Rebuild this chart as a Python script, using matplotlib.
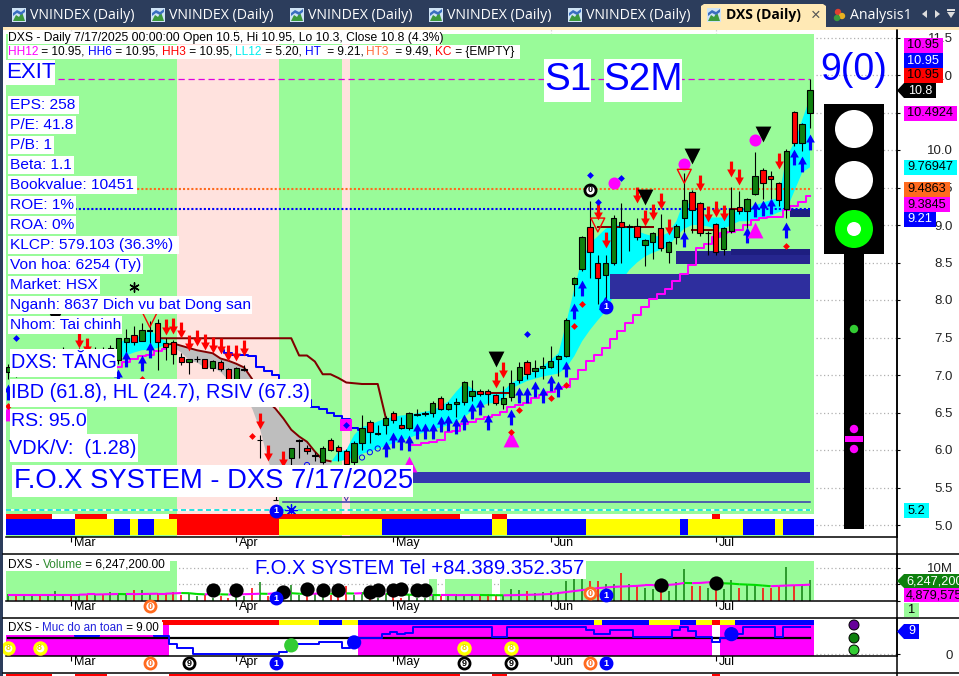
import numpy as np
import matplotlib
matplotlib.use("Agg")
import matplotlib.pyplot as plt
from matplotlib.patches import Rectangle, Polygon, Circle
from matplotlib.path import Path
from matplotlib.transforms import ScaledTranslation

plt.rcParams['font.family'] = ['Liberation Sans', 'DejaVu Sans']

# ---------------- data ----------------
body_top = [7.11,7.10,7.12,7.16,7.20,7.22,7.25,7.34,7.30,7.32,7.33,7.32,7.34,7.36,7.49,7.50,7.53,7.60,7.60,7.69,
            7.43,7.44,7.24,7.22,7.22,7.22,7.19,7.18,7.08,7.09,7.08,6.85,6.14,5.75,5.34,5.70,6.03,6.13,6.03,5.93,
            6.03,6.14,6.04,5.99,6.09,6.29,6.38,6.23,6.43,6.49,6.33,6.49,6.48,6.49,6.63,6.69,6.61,6.64,6.90,6.79,
            6.79,6.79,6.73,6.69,6.90,7.11,7.18,7.09,7.12,7.19,7.25,7.74,8.29,8.84,8.98,8.49,8.49,9.09,9.04,8.99,
            8.99,8.80,8.89,8.96,8.77,8.99,9.34,9.44,9.29,8.90,9.01,8.96,9.21,9.24,9.34,9.66,9.74,9.66,9.56,9.99,
            10.50,10.34,10.80]
body_bot = [7.04,7.02,7.03,7.08,7.12,7.14,7.15,7.20,7.22,7.22,7.25,7.26,7.27,7.28,7.20,7.44,7.44,7.46,7.59,7.44,
            7.38,7.28,7.17,7.18,7.21,7.09,7.10,7.08,6.93,6.94,7.07,6.65,6.13,5.60,5.33,5.45,5.89,6.12,5.99,5.92,
            5.84,6.00,5.99,5.82,5.84,6.09,6.24,6.22,6.33,6.40,6.30,6.29,6.47,6.48,6.50,6.55,6.55,6.62,6.64,6.72,
            6.75,6.75,6.63,6.61,6.71,6.94,7.01,7.06,7.09,7.11,7.21,7.26,8.21,8.41,8.64,8.29,8.33,8.49,8.98,8.98,
            8.84,8.73,8.78,8.69,8.64,8.84,9.09,9.20,8.90,8.89,8.64,8.68,8.92,9.19,9.19,9.42,9.56,9.62,9.33,9.21,
            10.10,10.10,10.50]
high = [7.15,7.14,7.16,7.20,7.24,7.26,7.30,7.38,7.35,7.36,7.38,7.38,7.38,7.40,7.50,7.62,7.65,7.70,7.72,7.75,
        7.50,7.47,7.30,7.22,7.26,7.22,7.20,7.20,7.10,7.11,7.13,6.90,6.20,5.80,5.55,5.75,6.03,6.15,6.07,5.97,
        6.05,6.16,6.07,6.01,6.12,6.47,6.40,6.33,6.45,6.52,6.44,6.51,6.55,6.52,6.66,6.72,6.64,6.69,6.92,6.94,
        6.82,6.81,6.75,6.85,7.07,7.17,7.20,7.20,7.24,7.39,7.27,7.76,8.31,8.86,9.32,8.60,8.60,9.13,9.30,9.01,
        9.10,8.82,8.91,9.15,8.79,9.01,9.70,9.46,9.31,8.92,9.03,8.98,9.51,9.45,9.36,9.97,9.76,9.72,9.58,10.01,
        10.52,10.36,10.95]
low = [6.95,6.98,7.00,7.04,7.08,7.10,7.12,7.15,7.18,7.18,7.20,7.22,7.22,7.24,7.15,7.30,7.40,7.45,7.40,7.07,
       7.20,7.15,7.13,7.02,7.18,7.09,7.06,7.05,6.90,6.92,7.05,6.60,5.90,5.55,5.33,5.40,5.80,5.90,5.95,5.85,
       5.82,5.98,5.85,5.70,5.80,6.00,6.10,6.20,6.22,6.36,6.28,6.27,6.45,6.46,6.44,6.53,6.53,6.44,6.60,6.65,
       6.72,6.60,6.60,6.55,6.65,6.90,6.95,6.98,6.95,7.10,6.99,7.24,8.05,8.38,8.30,7.95,7.90,8.47,8.50,8.65,
       8.80,8.45,8.55,8.65,8.50,8.75,8.90,8.90,8.85,8.60,8.60,8.60,8.90,9.15,8.90,9.40,9.35,9.35,9.25,9.10,
       10.05,9.99,10.30]
is_red = [0,1,0,0,1,0,0,0,1,0,1,0,1,0,0,0,1,0,0,1,1,1,1,0,0,1,0,1,1,0,0,1,0,1,0,0,0,0,1,0,
          0,1,1,1,0,0,1,0,0,1,1,0,0,0,0,1,0,0,0,0,1,1,1,0,0,0,1,0,0,0,0,0,0,0,1,1,0,0,1,0,
          1,0,0,1,0,0,0,1,1,0,1,0,0,1,0,0,1,1,1,0,1,0,0]

band_start = 14
band_fast = [7.42,7.48,7.50,7.52,7.60,7.52,7.45,7.38,7.30,7.20,7.17,7.10,7.11,7.04,6.93,6.85,6.75,6.55,6.27,5.87,
             5.55,5.45,5.50,5.60,5.65,5.70,5.75,5.83,5.98,6.00,6.20,6.31,6.33,6.38,6.42,6.44,6.46,6.47,6.49,6.51,
             6.53,6.58,6.65,6.78,6.89,6.82,6.76,6.75,6.76,6.79,6.89,6.95,7.00,7.05,7.12,7.20,7.29,7.70,8.15,8.55,
             8.75,8.85,8.95,9.00,9.00,8.98,8.92,8.88,8.85,8.85,8.90,9.05,9.33,9.25,9.15,9.10,9.10,9.10,9.15,9.20,
             9.23,9.26,9.30,9.33,9.36,9.90,10.10,10.40,10.70]
band_slow = [7.22,7.26,7.30,7.33,7.34,7.36,7.40,7.42,7.39,7.36,7.33,7.31,7.29,7.22,7.19,7.15,7.10,6.95,6.75,6.65,
             6.55,6.42,6.27,6.18,6.11,5.98,5.87,5.85,5.85,5.87,5.90,5.95,5.98,6.02,6.05,6.09,6.13,6.16,6.20,6.24,
             6.27,6.30,6.33,6.38,6.44,6.52,6.58,6.62,6.63,6.68,6.82,6.87,6.92,6.95,6.98,7.00,7.02,7.10,7.25,7.45,
             7.60,7.73,7.85,8.05,8.25,8.40,8.50,8.58,8.63,8.67,8.72,8.85,8.95,9.00,9.00,8.98,8.95,8.95,9.00,9.05,
             9.05,9.07,9.10,9.12,9.17,9.20,9.45,9.70,9.77]

support_i = [14,15,16,17,18,19,20]
support_p = [7.11,7.18,7.22,7.25,7.27,7.32,7.35]
support2_i = [51,52,53,54,55,56,57,58,59,60,61,62,63,64,65,66,67,68,69,70,71,72,73,74,75,76,77,78,79,80,81,82,83,84,85,86,87,88,89,90,91,92,93,94,95,96,97,98,99,100,101,102]
support2_p = [6.07,6.07,6.09,6.11,6.14,6.24,6.26,6.35,6.37,6.41,6.44,6.47,6.51,6.57,6.60,6.63,6.69,6.73,6.78,6.81,6.84,6.95,7.07,7.19,7.27,7.36,7.48,7.59,7.69,7.80,7.91,8.01,8.08,8.15,8.25,8.35,8.47,8.69,8.75,8.84,8.89,8.91,8.93,9.00,9.07,9.09,9.11,9.11,9.20,9.25,9.31,9.38]
blue_i = [27,28,29,30,31,32,33,34,35,36,37,38,39,40,41,42,43,44,45]
blue_p = [7.33,7.29,7.27,7.27,7.25,7.11,7.05,7.00,6.90,6.80,6.72,6.67,6.58,6.55,6.49,6.45,6.42,6.29,6.27]
resist_i = [19,20,21,22,23,24,25,26,27,28,29,30,31,32,33,34,35,36,37,38,39,40,41,42,43,44,45,46,47,48]
resist_p = [7.49]*18 + [7.26,7.26,7.18,7.01,7.01,6.96,6.90,6.89,6.88,6.88,6.88,6.44]
resist_runs = [(61,64,6.76),(75,82,8.98),(87,90,8.93),(92,93,9.22)]

hline_prices = [10.95, 9.4863, 9.21]
zone_start = [34, 76.5, 85, 92, 99.5]
zone_end = [102, 102, 102, 102, 102]
zone_low = [5.56, 8.01, 8.48, 8.60, 9.11]
zone_high = [5.71, 8.35, 8.65, 8.68, 9.21]
zone_color = ['#3636B0', '#2E2E9E', '#26268F', '#1E1E80', '#1E1E80']

down_i = [9,10,20,21,22,23,24,25,26,27,28,29,30,32,33,35,62,63,75,76,80,81,82,83,84,88,89,90,91,92,93,98]
down_p = [7.47,7.39,7.64,7.65,7.60,7.43,7.49,7.44,7.40,7.39,7.29,7.29,7.36,6.39,5.96,5.88,6.94,7.07,9.18,8.80,9.40,9.10,9.18,9.32,8.98,9.56,9.15,9.21,9.16,9.75,9.64,9.85]
up_i = [0,14,15,17,18,48,49,50,51,52,53,54,55,56,57,58,59,60,61,64,65,66,67,68,69,70,71,72,73,86,94,95,96,97,99,100,101,102]
up_p = [6.78,6.98,7.22,7.16,7.33,6.02,6.13,6.11,6.09,6.26,6.26,6.26,6.35,6.36,6.32,6.38,6.52,6.58,6.38,6.44,6.73,6.74,6.82,6.74,6.90,6.82,7.08,7.86,8.16,8.82,8.87,9.22,9.23,9.25,8.93,9.91,9.81,10.11]
mag_dot_i, mag_dot_p = [77,86,95], [9.56,9.81,10.13]
blk_tri_i, blk_tri_p = [6,62,81,87,96], [7.78,7.21,9.37,9.92,10.21]
hollow_i, hollow_p = [18,75,86], [7.73,9.00,9.65]
mag_tri_i, mag_tri_p = [0,51,64,95], [6.49,5.82,6.15,8.93]
red_dia_i, red_dia_p = [0,17,31,64,65,69,71,72,73,99], [6.59,6.95,6.19,6.24,6.53,6.70,6.87,7.66,7.95,8.72]
blue_dia_i, blue_dia_p = [1,43,66,74,75,78], [7.50,6.34,7.55,9.67,9.31,9.63]
ring_i, ring_p = [38,45,46,47], [5.80,5.90,5.97,6.02]

month_pos = [8,29,49,69,90]
month_lab = ['Mar','Apr','May','Jun','Jul']
price_ticks = [5.0,5.5,6.0,6.5,7.0,7.5,8.0,8.5,9.0,9.5,10.0,10.5,11.0,11.5]

pink_bars = list(range(22,35)) + [43]
strip_top_runs = [('r',6),('w',3),('r',4),('w',8),('r',37),('w',4),('r',2),('w',26),('r',1),('w',12)]
strip_low_runs = [('b',9),('y',5),('b',2),('y',1),('b',2),('y',3),('r',13),('y',13),('b',14),('y',2),('b',10),('y',12),('b',1),('y',7),('b',4),('y',1),('b',4)]
safe_strip_runs = [('w',20),('r',15),('y',5),('b',3),('y',2),('b',30),('y',1),('b',6),('y',4),('b',2),('y',2),('r',1),('y',2),('b',10)]

volume = [2.15,2.15,1.95,1.64,1.95,2.15,2.87,2.15,1.64,1.95,1.64,1.95,2.15,2.67,2.36,2.15,3.18,3.18,2.15,2.36,
          2.15,2.67,1.64,2.15,1.33,1.64,0.92,1.33,0.92,1.33,1.33,4.0,5.54,1.33,2.67,1.64,4.72,1.64,1.33,2.15,
          1.64,1.64,2.15,4.41,1.64,2.67,1.33,0.92,2.15,1.33,0.62,1.64,0.92,0.92,2.15,1.33,1.64,1.95,1.64,1.95,
          1.95,1.9,1.6,1.6,3.5,3.2,2.9,2.4,2.5,2.9,2.6,5.9,6.6,6.5,5.9,5.9,5.0,5.2,8.4,5.0,
          4.4,4.0,3.5,3.9,2.9,5.8,9.6,4.4,4.4,3.9,3.9,3.5,6.3,3.7,4.7,4.9,3.8,3.7,4.4,10.2,
          4.7,5.2,6.25]
vol_ma = [1.8,1.8,1.8,1.8,1.8,1.8,1.8,1.8,1.8,1.8,1.85,1.85,1.9,1.95,2.0,1.95,1.95,2.0,2.05,2.1,2.1,2.2,
          2.3,2.25,2.0,1.9,2.0,1.9,1.85,1.9,1.95,2.0,2.1,2.05,2.2,2.1,2.25,2.1,2.05,2.1,2.2,2.1,2.05,2.2,2.15,2.25,
          2.05,2.0,2.05,1.95,1.85,1.8,1.7,1.65,1.7,1.65,1.65,1.65,1.68,1.7,1.7,1.65,1.64,1.6,1.64,1.7,1.75,1.8,1.9,2.0,2.3,2.6,
          2.9,3.2,3.5,3.8,4.0,4.2,4.3,4.4,4.5,4.7,4.7,4.75,4.8,5.0,5.4,5.35,5.4,5.6,5.7,5.3,5.2,5.0,4.9,4.8,4.6,4.4,4.5,4.6,
          4.7,4.75,4.88]
vol_green_bars = list(range(0,22)) + [54] + list(range(56,62)) + list(range(63,103))
vol_dot_i, vol_dot_v = [26,29,35,38,40,42,46,47,49,50,52,53,83,90], [3.2,3.2,2.7,3.4,3.2,3.2,2.7,3.2,3.2,3.5,3.2,3.2,4.9,5.5]

safety = [7.65]*9 + [6.07]*3 + [7.65]*7 + [6.07,6.07,3.37,2.25,2.25] + [0.11]*11 + [0.9,3.37,3.37,3.37,3.37,4.27,4.27,4.27,2.25,5.4,5.4,5.4,5.4,
          6.86,7.54,6.86,7.09] + [9.0]*10 + [5.96,5.96] + [9.0]*10 + [7.99,6.86,6.86] + [7.99]*3 + [5.96]*5 + [7.99,9.11,7.65,5.96,5.96,4.27,5.4,6.86,6.86] + [9.0]*4 + [5.96] + [9.0]*4
safety_level = 5.4
safe_white_bars = list(range(21,45)) + [90]
safe_dot_i, safe_dot_v, safe_dot_c = [36,44,92], [3.0,4.0,6.75], ['#33CC33','#0000FF','#0000FF']
eight_i = [0,4,58,64]
row_safe = [(18,'0','#FF6A1E'),(23,'9','#000000'),(34,'1','#0000FF'),(58,'9','#000000'),(64,'9','#000000'),(74,'0','#FF6A1E'),(76,'1','#0000FF')]

# ---------------- layout helpers ----------------
W, H = 959, 676
fig = plt.figure(figsize=(W/100, H/100), dpi=100, facecolor='white')
COL = {'r':'#FF0000','w':'#FFFFFF','b':'#0000FF','y':'#FFFF00'}
GREEN_BG, PINK_BG = '#99FB99', '#FFE2DE'
X0, SP = 8.3, 7.86
AX_L, AX_R = 6, 897
xlim = ((AX_L-X0)/SP, (AX_R-X0)/SP)
n = len(body_top)
idx = np.arange(n)

def axes_px(top, bottom, **kw):
    return fig.add_axes([AX_L/W, 1-bottom/H, (AX_R-AX_L)/W, (bottom-top)/H], **kw)

def month_axis(ax):
    ax.set_xlim(*xlim)
    ax.set_xticks(month_pos)
    ax.set_xticklabels(month_lab, fontsize=9, ha='left')
    ax.tick_params(axis='x', length=3.5, width=0.8, pad=-3.2, color='black')
    off = ScaledTranslation(3/100, 0, fig.dpi_scale_trans)
    for t in ax.get_xticklabels():
        t.set_transform(t.get_transform() + off)
    for s in ['top','left']:
        ax.spines[s].set_visible(False)
    ax.spines['right'].set_linewidth(1.1)
    ax.spines['bottom'].set_linewidth(1.1)

def right_axis(ax, ticks, labels):
    ax.yaxis.tick_right()
    ax.set_yticks(ticks)
    ax.set_yticklabels(labels, fontsize=9.5, ha='right', color='#222222')
    ax.tick_params(axis='y', length=2.5, width=0.8, pad=(953-AX_R)*0.72-2.5)
    ax.set_axisbelow(True)
    ax.grid(True, axis='y', ls=(0,(1,2)), color='#B0B0B0', lw=0.9)

def runs_to_colors(runs):
    out = []
    for c, k in runs:
        out += [COL[c]]*k
    return out

def circled(ax, x, y, digit, color, filled=False, transform=None, clip=False, size=8):
    tr = transform if transform is not None else ax.transData
    ax.plot([x],[y], marker='o', ms=size, mfc=color if filled else 'white', mec=color, mew=2.0,
            transform=tr, clip_on=clip, zorder=9, ls='none')
    ax.text(x, y, digit, color='white' if filled else color, fontsize=6.5, fontweight='bold',
            ha='center', va='center', transform=tr, clip_on=clip, zorder=10)

# ---------------- main price panel ----------------
P_TOP, P_BOT = 30, 537
ax = axes_px(P_TOP, P_BOT)
price_of = lambda px: 5 + (525-px)/75
ax.set_ylim(price_of(P_BOT), price_of(P_TOP))
month_axis(ax)
right_axis(ax, price_ticks, ['%.1f' % t for t in price_ticks])
ax.grid(True, axis='x', ls=(0,(1,2)), color='#B0B0B0', lw=0.9)

bg_top = (P_BOT-34)/(P_BOT-P_TOP)
for i in idx:
    ax.axvspan(i-0.5, i+0.5, ymin=0, ymax=bg_top, color=PINK_BG if i in pink_bars else GREEN_BG, lw=0, zorder=0.8)

xform = ax.get_xaxis_transform()
f_a = (P_BOT-519)/(P_BOT-P_TOP); f_b = (P_BOT-514)/(P_BOT-P_TOP); f_c = (P_BOT-535)/(P_BOT-P_TOP)
ax.bar(idx, f_b-f_a, bottom=f_a, width=1.0, color=runs_to_colors(strip_top_runs), transform=xform, zorder=5, lw=0)
ax.bar(idx, f_a-f_c, bottom=f_c, width=1.0, color=runs_to_colors(strip_low_runs), transform=xform, zorder=5, lw=0)

bi = np.arange(band_start, band_start+len(band_fast))
bf, bs = np.array(band_fast), np.array(band_slow)
ax.fill_between(bi, bf, bs, where=bf>=bs, color='#00FFFF', lw=0, zorder=1.2, interpolate=True)
ax.fill_between(bi, bf, bs, where=bf<=bs, color='#BEBEBE', lw=0, zorder=1.2, interpolate=True)
ax.plot(bi, np.where((bi>=20)&(bi<=41), bs, np.nan), color='#800000', lw=1.4, zorder=2)

for a, b, lo, hi, c in zip(zone_start, zone_end, zone_low, zone_high, zone_color):
    ax.add_patch(Rectangle((a, lo), b-a, hi-lo, color=c, lw=0, zorder=1.5))
ax.plot([35,102],[5.31,5.31], color='#3636B0', lw=1.1, zorder=1.6)
ax.plot([-0.3,102],[5.2,5.2], color='white', lw=1.2, zorder=1.6)
ax.plot([-0.3,102],[5.2,5.2], color='#00DDDD', lw=1.2, ls=(0,(3,2)), zorder=1.7)

ax.plot([0,102],[hline_prices[0]]*2, color='#E000E0', lw=0.9, ls=(0,(5,3)), zorder=1.7)
ax.plot([0,102],[hline_prices[1]]*2, color='#FF6A1E', lw=1.5, ls=(0,(1,1)), zorder=1.7)
ax.plot([0,102],[hline_prices[2]]*2, color='#0000FF', lw=1.5, ls=(0,(1,1)), zorder=1.7)

ax.plot(support_i, support_p, color='#FF00FF', lw=1.45, drawstyle='steps-mid', zorder=2.1)
ax.plot(support2_i, support2_p, color='#FF00FF', lw=1.45, drawstyle='steps-mid', zorder=2.1)
ax.plot(blue_i, blue_p, color='#0000FF', lw=1.45, drawstyle='steps-mid', zorder=2.1)
ax.plot(resist_i, resist_p, color='#800000', lw=1.45, zorder=2.1)
for a, b, p in resist_runs:
    ax.plot([a,b],[p,p], color='#800000', lw=1.45, zorder=2.1)

top, bot = np.array(body_top), np.array(body_bot)
ax.vlines(idx, low, high, color='black', lw=0.8, zorder=3)
colors = []
for i in idx:
    if top[i]-bot[i] <= 0.012:
        colors.append('black')
    else:
        colors.append('#FF0000' if is_red[i] else '#0E800E')
ax.bar(idx, top-bot, bottom=bot, width=0.68, color=colors, edgecolor='black', linewidth=0.8, zorder=3.2)

up_path = Path([(-.2,-1),(.2,-1),(.2,0),(.55,0),(0,1),(-.55,0),(-.2,0),(-.2,-1)], closed=True)
dn_path = Path([(-.2,1),(.2,1),(.2,0),(.55,0),(0,-1),(-.55,0),(-.2,0),(-.2,1)], closed=True)
ax.scatter(down_i, down_p, marker=dn_path, s=130, color='#FF0000', lw=0, zorder=4)
ax.scatter(up_i, up_p, marker=up_path, s=130, color='#0000FF', lw=0, zorder=4)
ax.scatter(mag_dot_i, mag_dot_p, marker='o', s=75, color='#FF00FF', lw=0, zorder=4)
ax.scatter(blk_tri_i, blk_tri_p, marker='v', s=130, color='black', lw=0, zorder=4)
ax.scatter(hollow_i, hollow_p, marker='v', s=100, facecolor='none', edgecolor='#FF0000', lw=1, zorder=4)
ax.scatter(mag_tri_i, mag_tri_p, marker='^', s=130, color='#FF00FF', lw=0, zorder=4)
ax.scatter(red_dia_i, red_dia_p, marker='D', s=12, color='#FF0000', lw=0, zorder=4.1)
ax.scatter([43],[6.34], marker='s', s=75, color='#FF00FF', lw=0, zorder=4)
ax.scatter(blue_dia_i, blue_dia_p, marker='D', s=12, color='#0000FF', lw=0, zorder=4.1)
ax.scatter(ring_i, ring_p, marker='o', s=14, facecolor='none', edgecolor='#0000FF', lw=0.7, zorder=4)
ax.scatter([16],[8.18], marker=(6,2,0), s=45, color='black', lw=1, zorder=4)
ax.scatter([36],[5.2], marker=(8,2,0), s=70, color='#0000FF', lw=0.9, zorder=4)
ax.scatter([43],[5.35], marker='v', s=10, facecolor='none', edgecolor='#3636B0', lw=0.7, zorder=4)
ax.scatter([76],[7.95], marker='^', s=70, facecolor='none', edgecolor='#0000FF', lw=1, zorder=4)
circled(ax, 74, 9.47, '0', 'black', clip=True)
circled(ax, 76, 7.91, '1', '#0000FF', filled=True, clip=True)
circled(ax, 34, 5.19, '1', '#0000FF', filled=True, clip=True)

# ---------------- volume panel ----------------
V_TOP, V_BOT = 554, 601
vx = axes_px(V_TOP, V_BOT)
vx.set_ylim(-0.15, 14.3)
month_axis(vx)
right_axis(vx, [0,5,10], ['', '', '10M'])
for i in vol_green_bars:
    vx.axvspan(i-0.5, i+0.5, ymin=0.02, ymax=(V_BOT-561)/(V_BOT-V_TOP), color=GREEN_BG, lw=0, zorder=0.8)
vc = ['#FF0000' if r else '#0E800E' for r in is_red]
vx.vlines(idx, 0, volume, colors=vc, lw=1.1, zorder=2)
for i in range(1, n):
    c = '#FF00FF' if vol_ma[i] >= vol_ma[i-1] else '#00DD00'
    vx.plot([i-1,i],[vol_ma[i-1],vol_ma[i]], color=c, lw=1.5, zorder=2.2, solid_capstyle='butt')
vx.scatter(vol_dot_i, vol_dot_v, s=105, color='black', lw=0, zorder=4)
vx.plot([-0.3,102],[0,0], color='#33CCAA', lw=0.9, zorder=1.5)
circled(vx, 18, -1.7, '0', '#FF6A1E', clip=False)
circled(vx, 34, 0.7, '1', '#0000FF', filled=True, clip=False)
circled(vx, 74, 2.2, '0', '#FF6A1E', clip=False)
circled(vx, 76, 1.6, '1', '#0000FF', filled=True, clip=False)

# ---------------- safety panel ----------------
S_TOP, S_BOT = 618, 656
sx = axes_px(S_TOP, S_BOT)
sx.set_ylim(-0.56, 12.15)
month_axis(sx)
right_axis(sx, [0], ['0'])
for i in idx:
    sx.axvspan(i-0.5, i+0.5, color='white' if i in safe_white_bars else '#FF00FF', lw=0, zorder=0.8)
sform = sx.get_xaxis_transform()
s_a = (S_BOT-(510+345/3))/(S_BOT-S_TOP); s_b = (S_BOT-(510+330/3))/(S_BOT-S_TOP)
sx.bar(idx, s_b-s_a, bottom=s_a, width=1.0, color=runs_to_colors(safe_strip_runs), transform=sform, zorder=1, lw=0)
sx.axvspan(-0.5, 102.5, ymin=s_b, ymax=1, color='white', lw=0, zorder=1.1)
sx.plot([0,102],[safety_level]*2, color='black', lw=1.6, zorder=2)
sx.plot(idx, safety, color='#0000FF', lw=1.4, drawstyle='steps-mid', zorder=3)
sx.scatter(safe_dot_i, safe_dot_v, s=105, c=safe_dot_c, lw=0, zorder=4)
for i in eight_i:
    sx.plot([i],[2.25], marker='o', ms=8, mfc='white', mec='#FFFF00', mew=2.4, zorder=5, clip_on=False)
    sx.text(i, 2.25, '8', color='#E8D800', fontsize=6.5, fontweight='bold', ha='center', va='center', zorder=6)
for i, d, c in row_safe:
    fill = c == '#0000FF'
    circled(sx, i, -2.95, d, c, filled=fill, clip=False)

# ---------------- strip of the next panel ----------------
nx = axes_px(674, 676)
nx.set_xlim(*xlim); nx.set_ylim(0,1); nx.axis('off')
nx.bar(idx, 1, width=1.0, color=runs_to_colors(strip_top_runs), lw=0)

# ---------------- screen decoration overlay ----------------
ov = fig.add_axes([0,0,1,1], zorder=20)
ov.set_xlim(0,W); ov.set_ylim(H,0); ov.axis('off'); ov.patch.set_alpha(0)
for a in (vx, sx, ax):
    a.set_zorder(5)

def rect(x0,y0,x1,y1,c,z=1,**kw):
    ov.add_patch(Rectangle((x0,y0),x1-x0,y1-y0,facecolor=c,edgecolor='none',lw=0,zorder=z,**kw))

def box(x0,y0,x1,y1,txt,size,color='#0000FF',bg='white',pad=2,ha='left',z=3):
    if bg is not None:
        rect(x0,y0,x1,y1,bg,z=z)
    tx = x0+pad if ha=='left' else (x0+x1)/2
    ov.text(tx,(y0+y1)/2,txt,fontsize=size,color=color,ha=ha,va='center',zorder=z+1)

def tag(x0,y0,x1,y1,txt,bg,color='white',size=9):
    ov.add_patch(Polygon([(x0,(y0+y1)/2),(x0+7,y0),(x1,y0),(x1,y1),(x0+7,y1)],closed=True,fc=bg,ec='none',zorder=5))
    ov.text(x0+11,(y0+y1)/2,txt,fontsize=size,color=color,ha='left',va='center',zorder=6,clip_on=True)

# tabs
rect(0,0,W,27,'#2C3D5C')
rect(0,27,W,30,'#FFE8B8')
rect(0,27,3,H,'#2C3D5C')
def icon(x):
    rect(x,8,x+14,22,'#CFE3F5',z=2)
    ov.add_patch(Polygon([(x+1,21),(x+4,15),(x+7,17),(x+10,12),(x+13,21)],closed=True,fc='#3C9A3C',ec='none',zorder=3))
    ov.add_patch(Polygon([(x+1,13),(x+5,10),(x+9,12),(x+13,9),(x+13,12),(x+9,15),(x+5,13),(x+1,16)],closed=True,fc='#3A6EC0',ec='none',zorder=3))
for x in [12,151,290,429,568]:
    icon(x)
    ov.text(x+18,15.5,'VNINDEX (Daily)',fontsize=10.2,color='white',ha='left',va='center',family='Open Sans',zorder=3)
ov.add_patch(Polygon([(701,30),(701,6),(704,4),(823,4),(826,6),(826,30)],closed=True,fc='#FFE9B5',ec='none',zorder=2))
icon(707)
ov.text(725.5,15.5,'DXS (Daily)',fontsize=10,color='black',fontweight='bold',ha='left',va='center',family='Open Sans',zorder=3)
ov.text(816,15,'×',fontsize=12,color='#555555',ha='center',va='center',zorder=3)
for cx,cy,c in [(838,12,'#E04030'),(842,16,'#E8B020'),(837,18,'#3C9A3C')]:
    ov.add_patch(Circle((cx,cy),3.2,fc=c,ec='none',zorder=3))
ov.text(850,15.5,'Analysis1',fontsize=10.2,color='white',ha='left',va='center',family='Open Sans',zorder=3)
ov.add_patch(Polygon([(927,10),(927,18),(922,14)],closed=True,fc='#DDDDDD',ec='none',zorder=3))
ov.add_patch(Polygon([(935,10),(935,18),(940,14)],closed=True,fc='#DDDDDD',ec='none',zorder=3))
ov.add_patch(Polygon([(947,12),(955,12),(951,18)],closed=True,fc='#DDDDDD',ec='none',zorder=3))
rect(947,9,955,10.5,'#DDDDDD',z=3)

# white header boxes
rect(6,34,8,58,GREEN_BG,z=1)
rect(8,32,442,44,'white',z=2)
rect(8,45,520,59,'white',z=2)
ov.text(8,37.5,'DXS - Daily 7/17/2025 00:00:00 Open 10.5, Hi 10.95, Lo 10.3, Close 10.8 (4.3%)',fontsize=8.72,color='black',va='center',zorder=3)
pieces = [('HH12','#FF00FF'),(' = 10.95, ','black'),('HH6','#0000FF'),(' = 10.95, ','black'),('HH3','#FF0000'),(' = 10.95, ','black'),
          ('LL12','#00EEEE'),(' = 5.20, ','black'),('HT ','#0000FF'),(' = 9.21, ','black'),('HT3 ','#FF6A3A'),(' = 9.49, ','black'),('KC','#FF0000'),(' = {EMPTY}','black')]
fig.canvas.draw()
rend = fig.canvas.get_renderer()
def run_text(parts, x, y, size):
    cur = x
    for s, c in parts:
        ov.text(cur,y,s,fontsize=size,color=c,va='center',zorder=3)
        tmp = ov.text(0,0,'.'+s+'.',fontsize=size); w2 = tmp.get_window_extent(rend).width
        tmp.set_text('..'); w1 = tmp.get_window_extent(rend).width; tmp.remove()
        cur += w2-w1
run_text(pieces, 8.0, 52, 8.6)

# stat labels
box(5,60,55,85,'EXIT',16,pad=1)
stats = [('EPS: 258',79),('P/E: 41.8',76),('P/B: 1',54),('Beta: 1.1',74),('Bookvalue: 10451',137),('ROE: 1%',76),('ROA: 0%',76),
         ('KLCP: 579.103 (36.3%)',179),('Von hoa: 6254 (Ty)',143),('Market: HSX',100),('Nganh: 8637 Dich vu bat Dong san',252),('Nhom: Tai chinh',122)]
for k,(s,x1) in enumerate(stats):
    box(8,96+20*k,x1,113.5+20*k,s,11.15,pad=1.5)
box(10,349,117,377,'DXS: TĂNG',14.2,pad=1)
box(10,379,311,407,'IBD (61.8), HL (24.7), RSIV (67.3)',14.35,pad=1)
box(10,409,87,434,'RS: 95.0',14,pad=1)
box(10,434,138,462,'VDK/V:  (1.28)',14.3,pad=-1)
box(12,465,413,497,'F.O.X SYSTEM - DXS 7/17/2025',19.7,pad=2)
box(544,59,591,102,'S1',27.8,ha='center')
box(604,59,682,102,'S2M',27.8,ha='center')
ov.text(854,70,'9(0)',fontsize=27,color='#0000FF',ha='center',va='center',zorder=4)

# traffic light
rect(824,104,884,254,'black',z=3)
rect(844,254,864,529,'black',z=3)
for cy in (129,180):
    ov.add_patch(Circle((854,cy),19,fc='white',ec='none',zorder=4))
ov.add_patch(Circle((854,229),19,fc='#00FF00',ec='none',zorder=4))
ov.add_patch(Circle((854,229),7,fc='white',ec='none',zorder=5))
ov.add_patch(Circle((854,329),4.2,fc='#33CC33',ec='none',zorder=4))
ov.add_patch(Circle((854,429),4.2,fc='#FF00FF',ec='none',zorder=4))
ov.add_patch(Circle((854,449),4.2,fc='#FF00FF',ec='none',zorder=4))
rect(845,436,863,442,'#FF00FF',z=4)

# price tags
box(904,38,943,53,'10.95',9.2,color='black',bg='#FF00FF',ha='center')
box(904,53,943,68,'10.95',9.2,color='white',bg='#0000FF',ha='center')
box(904,68,943,83,'10.95',9.2,color='black',bg='#FF0000',ha='center')
tag(897,83,936,98,'10.8','black')
box(904,106,957,121,'10.4924',9.2,color='black',bg='#FF00FF',ha='center')
box(904,160,957,175,'9.76947',9.2,color='black',bg='#00FFFF',ha='center')
box(904,182,950,197,'9.4863',9.2,color='black',bg='#FF6A1E',ha='center')
box(904,197,950,212,'9.3845',9.2,color='black',bg='#FF00FF',ha='center')
box(904,212,936,227,'9.21',9.2,color='white',bg='#0000FF',ha='center')
box(904,503,929,518,'5.2',9.2,color='black',bg='#00FFFF',ha='center')

# volume text and tags
rect(6,559,170,571,'white',z=2)
run_text([('DXS - ','black'),('Volume','#2E8B2E'),(' = 6,247,200.00','black')], 8.0, 564.5, 8.6)
box(250,558,586,579,'F.O.X SYSTEM Tel +84.389.352.357',14.6,pad=5)
ov.add_patch(Polygon([(897,581),(904,574),(959,574),(959,588),(904,588)],closed=True,fc='#0E800E',ec='none',zorder=5))
ov.text(906,581,'6,247,200',fontsize=9.2,color='white',va='center',zorder=6,clip_on=True)
rect(904,588,959,602,'#FF00FF',z=5)
ov.text(906,595,'4,879,575',fontsize=9.2,color='black',va='center',zorder=6,clip_on=True)
box(904,603,919,617,'1',9.2,color='black',bg=GREEN_BG,ha='center')

# safety text and tags
rect(6,622,163,635,'white',z=2)
run_text([('DXS - ','black'),('Muc do an toan','#2222DD'),(' = 9.00','black')], 8.0, 628, 8.4)
tag(897,624,919,639,'9','#0000FF')
for cy,c in [(625,'#660099'),(638,'#0E800E'),(650,'#33CC33')]:
    ov.add_patch(Circle((854,cy),5,fc=c,ec='black',lw=0.7,zorder=4))

# frame lines
for y in (554,618,673):
    ov.plot([3,959],[y,y],color='black',lw=1.1,zorder=2)
ov.plot([897,897],[30,676],color='black',lw=1.1,zorder=2)

fig.savefig('out.png', dpi=100, facecolor='white')
